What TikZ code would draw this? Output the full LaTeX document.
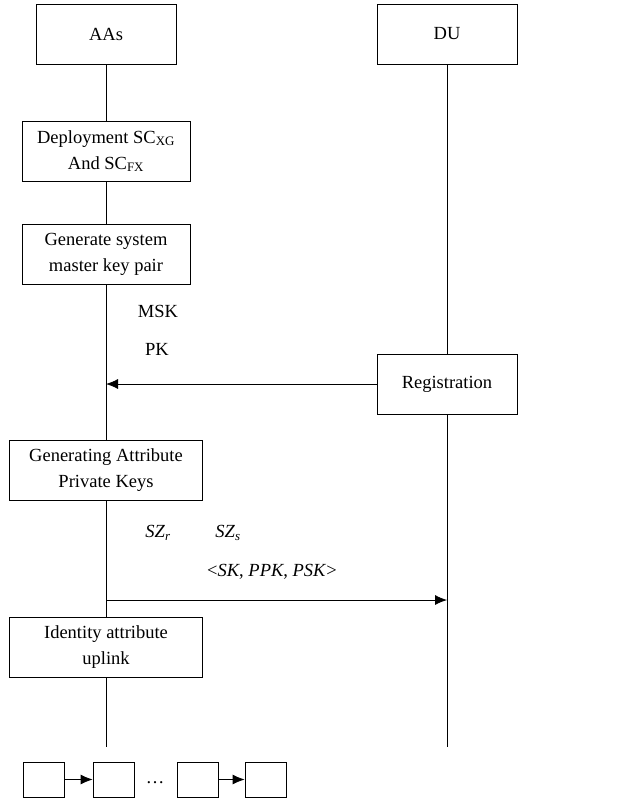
\documentclass[tikz,border=0pt]{standalone}
\usepackage{fontspec}
\setmainfont{Liberation Serif}
\usetikzlibrary{arrows.meta}
\tikzset{
  box/.style={draw, line width=0.8pt, minimum height=60pt, align=center, inner sep=0pt, font=\fontsize{18.5}{26}\selectfont},
  cell/.style={draw, line width=0.8pt, minimum width=41pt, minimum height=35pt, inner sep=0pt},
  lbl/.style={inner sep=0pt, font=\fontsize{18.5}{26}\selectfont},
  msg/.style={line width=0.8pt, -{Latex[length=12pt, width=10pt]}}
}
\begin{document}
\begin{tikzpicture}[x=1pt, y=-1pt]
\useasboundingbox (0,0) rectangle (623,801);
\node [box, minimum width=140pt] (aas) at (106,34) {AAs};
\node [box, minimum width=140pt] (du) at (447,34) {DU};
\node [box, minimum width=168pt] (deploy) at (106,151) {Deployment SC\textsubscript{XG}\\And SC\textsubscript{FX}};
\node [box, minimum width=168pt] (genkey) at (106,254) {Generate system\\master key pair};
\node [box, minimum width=140pt] (reg) at (447,384) {Registration};
\node [box, minimum width=193pt] (genapk) at (106,470) {Generating Attribute\\Private Keys};
\node [box, minimum width=193pt] (uplink) at (106,647) {Identity attribute\\uplink};
\coordinate (aasend) at (106,747);
\coordinate (duend) at (447,747);
\coordinate (reqin) at (106,384);
\coordinate (keyout) at (106,600);
\coordinate (keyin) at (447,600);
% lifelines
\draw [line width=0.8pt] (aas) -- (deploy) (deploy) -- (genkey) (genkey) -- (genapk) (genapk) -- (uplink) (uplink) -- (aasend);
\draw [line width=0.8pt] (du) -- (reg) (reg) -- (duend);
% messages
\node [lbl] (msk) at (158,311) {MSK};
\node [lbl] (pk) at (157,349) {PK};
\draw [msg] (reg.west) -- (reqin);
\node [lbl] (szr) at (158,533) {\textit{SZ}\textsubscript{\textit{r}}};
\node [lbl] (szs) at (228,533) {\textit{SZ}\textsubscript{\textit{s}}};
\node [lbl] (keys) at (272,572) {\textless\textit{SK}, \textit{PPK}, \textit{PSK}\textgreater};
\draw [msg] (keyout) -- (keyin);
% chain
\node [cell] (c1) at (43.5,779.5) {};
\node [cell] (c2) at (113.5,779.5) {};
\node [cell] (c3) at (197.5,779.5) {};
\node [cell] (c4) at (265.5,779.5) {};
\node [lbl] (dots) at (155,783) {\dots};
\draw [msg] (c1) -- (c2);
\draw [msg] (c3) -- (c4);
\end{tikzpicture}
\end{document}
